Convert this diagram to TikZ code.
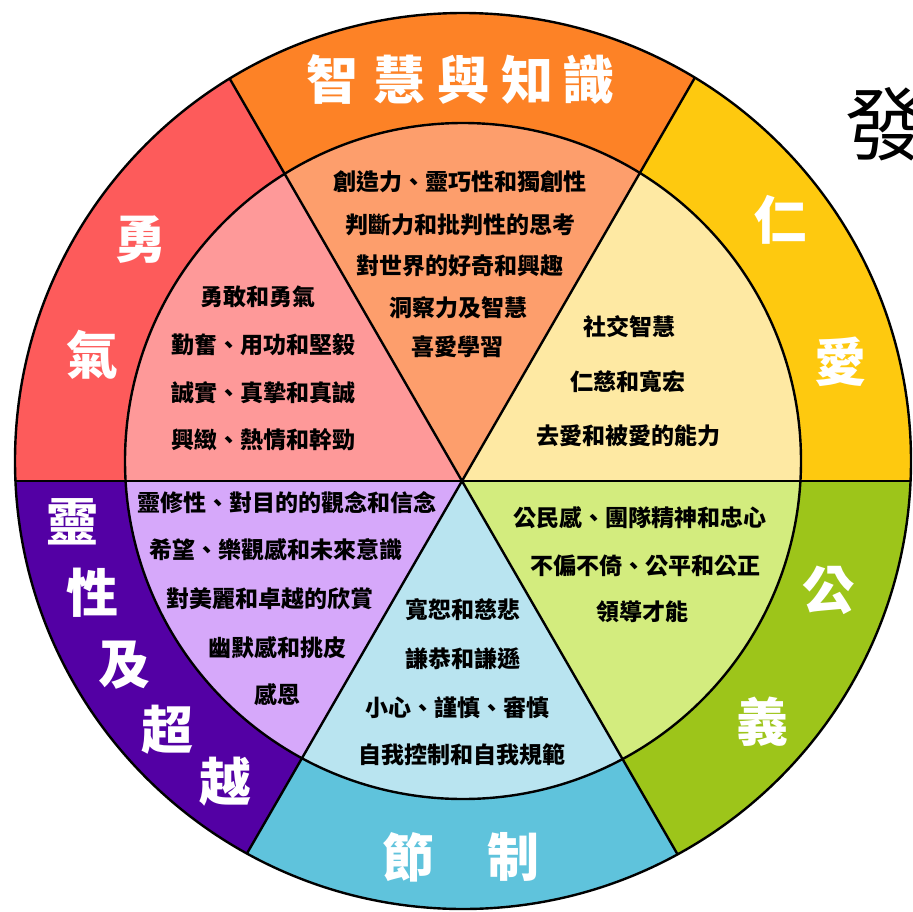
\documentclass[tikz,border=0pt]{standalone}
\usepackage{fontspec}
\newfontfamily\cjk{Noto Sans CJK TC}
\usepackage{tikz}
\usetikzlibrary{calc}
\definecolor{wisdomdark}{HTML}{FD8226}
\definecolor{wisdomlight}{HTML}{FD9E6C}
\definecolor{humanitydark}{HTML}{FEC90F}
\definecolor{humanitylight}{HTML}{FEE9A3}
\definecolor{justicedark}{HTML}{9DC51A}
\definecolor{justicelight}{HTML}{D3EC7E}
\definecolor{temperancedark}{HTML}{5FC3DC}
\definecolor{temperancelight}{HTML}{B9E4F0}
\definecolor{transcenddark}{HTML}{5300A4}
\definecolor{transcendlight}{HTML}{D6A8FA}
\definecolor{couragedark}{HTML}{FD5B5B}
\definecolor{couragelight}{HTML}{FE9999}

\begin{document}
\begin{tikzpicture}[x=1pt, y=-1pt,
    rim/.style={draw=black, line width=2.4pt},
    divider/.style={draw=black, line width=2.4pt},
    virtue/.style={font=\cjk\bfseries\fontsize{23}{26}\selectfont, inner sep=0pt},
    strength/.style={font=\cjk\bfseries\fontsize{52}{56}\selectfont, text=white, inner sep=0pt},
    title/.style={font=\cjk\fontsize{80}{84}\selectfont, inner sep=0pt}
]

\useasboundingbox (0,0) rectangle (913,911);
\clip (0,0) rectangle (913,911);
\fill[white] (0,0) rectangle (913,911);

% --- hub and centre ---
\coordinate (hub) at (462,481);
\coordinate (ctr) at (463,461);

% --- sectors ---
\begin{scope}
  \clip (hub) -- +(-60:1000) -- +(-120:1000) -- cycle;
  \fill[wisdomdark] (ctr) circle (448pt);
  \fill[wisdomlight] (ctr) circle (338pt);
\end{scope}
\begin{scope}
  \clip (hub) -- +(0:1000) -- +(-60:1000) -- cycle;
  \fill[humanitydark] (ctr) circle (448pt);
  \fill[humanitylight] (ctr) circle (338pt);
\end{scope}
\begin{scope}
  \clip (hub) -- +(0:1000) -- +(60:1000) -- cycle;
  \fill[justicedark] (ctr) circle (448pt);
  \fill[justicelight] (ctr) circle (338pt);
\end{scope}
\begin{scope}
  \clip (hub) -- +(60:1000) -- +(120:1000) -- cycle;
  \fill[temperancedark] (ctr) circle (448pt);
  \fill[temperancelight] (ctr) circle (338pt);
\end{scope}
\begin{scope}
  \clip (hub) -- +(120:1000) -- +(180:1000) -- cycle;
  \fill[transcenddark] (ctr) circle (448pt);
  \fill[transcendlight] (ctr) circle (338pt);
\end{scope}
\begin{scope}
  \clip (hub) -- +(180:1000) -- +(-120:1000) -- cycle;
  \fill[couragedark] (ctr) circle (448pt);
  \fill[couragelight] (ctr) circle (338pt);
\end{scope}

% --- dividers ---
\begin{scope}
  \clip (ctr) circle (448pt);
  \draw[divider] (hub) -- +(0:600);
  \draw[divider] (hub) -- +(60:600);
  \draw[divider] (hub) -- +(120:600);
  \draw[divider] (hub) -- +(180:600);
  \draw[divider] (hub) -- +(-120:600);
  \draw[divider] (hub) -- +(-60:600);
\end{scope}

% --- rims ---
\draw[rim] (ctr) circle (448pt);
\draw[rim] (ctr) circle (338pt);

% --- strengths ---
\node[strength] (wisA) at (332,80) {智};
\node[strength] (wisB) at (399,80) {慧};
\node[strength] (wisC) at (463,80) {與};
\node[strength] (wisD) at (527,80) {知};
\node[strength] (wisE) at (588,80) {識};

\node[strength] (humA) at (780,220) {仁};
\node[strength] (humB) at (840,362) {愛};

\node[strength] (jusA) at (828,590) {公};
\node[strength] (jusB) at (762,722) {義};

\node[strength] (temA) at (408,857) {節};
\node[strength] (temB) at (513,857) {制};

\node[strength] (traA) at (72,522)  {靈};
\node[strength] (traB) at (92,593)  {性};
\node[strength] (traC) at (124,665) {及};
\node[strength] (traD) at (167,730) {超};
\node[strength] (traE) at (225,782) {越};

\node[strength] (couA) at (140,240) {勇};
\node[strength] (couB) at (92,355)  {氣};

% --- virtues ---
\node[virtue] (wis1) at (460,182) {創造力、靈巧性和獨創性};
\node[virtue] (wis2) at (460,225) {判斷力和批判性的思考};
\node[virtue] (wis3) at (460,266) {對世界的好奇和興趣};
\node[virtue] (wis4) at (458,308) {洞察力及智慧};
\node[virtue] (wis5) at (457,347) {喜愛學習};

\node[virtue] (hum1) at (629,327) {社交智慧};
\node[virtue] (hum2) at (628,382) {仁慈和寬宏};
\node[virtue] (hum3) at (628,436) {去愛和被愛的能力};

\node[virtue] (jus1) at (640,518) {公民感、團隊精神和忠心};
\node[virtue] (jus2) at (645,566) {不偏不倚、公平和公正};
\node[virtue] (jus3) at (642,612) {領導才能};

\node[virtue] (tem1) at (463,610) {寬恕和慈悲};
\node[virtue] (tem2) at (463,659) {謙恭和謙遜};
\node[virtue] (tem3) at (457,708) {小心、謹慎、審慎};
\node[virtue] (tem4) at (462,755) {自我控制和自我規範};

\node[virtue] (tra1) at (287,503) {靈修性、對目的的觀念和信念};
\node[virtue] (tra2) at (276,550) {希望、樂觀感和未來意識};
\node[virtue] (tra3) at (270,599) {對美麗和卓越的欣賞};
\node[virtue] (tra4) at (277,648) {幽默感和挑皮};
\node[virtue] (tra5) at (277,695) {感恩};

\node[virtue] (cou1) at (258,297) {勇敢和勇氣};
\node[virtue] (cou2) at (263,345) {勤奮、用功和堅毅};
\node[virtue] (cou3) at (263,393) {誠實、真摯和真誠};
\node[virtue] (cou4) at (263,440) {興緻、熱情和幹勁};

% --- title (cut off) ---
\node[title] (ttl) at (885,124) {發};

\end{tikzpicture}
\end{document}
